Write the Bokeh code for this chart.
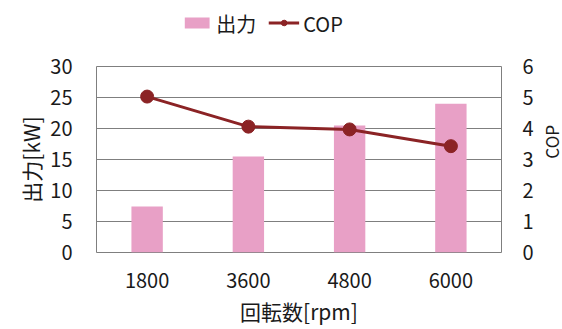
import math
from bokeh.plotting import figure
from bokeh.layouts import column, row
from bokeh.models import (ColumnDataSource, Range1d, LinearAxis, Legend, LegendItem,
                          FixedTicker)
from bokeh.core.properties import value
from bokeh.embed import file_html
from bokeh.resources import INLINE

# Data
speeds = ["1800", "3600", "4800", "6000"]
power_kw = [7.4, 15.5, 20.5, 24.0]
cop = [5.03, 4.06, 3.97, 3.43]

FONT = "Noto Sans CJK JP"
BAR_COLOR = "#E8A0C6"
LINE_COLOR = "#8B2325"
GRID_COLOR = "#7F7F7F"
TEXT_COLOR = "#1a1a1a"

src = ColumnDataSource(dict(x=speeds, power=power_kw, cop=cop))

p = figure(
    x_range=speeds, y_range=Range1d(0, 30),
    width=540, height=284,
    min_border_left=96, min_border_right=39, min_border_top=21, min_border_bottom=77,
    output_backend="svg", toolbar_location=None,
    background_fill_color="white", border_fill_color="white",
)
p.extra_y_ranges = {"cop": Range1d(0, 6)}

bars = p.vbar(x="x", top="power", width=0.31, source=src,
              fill_color=BAR_COLOR, line_color=None)
line = p.line(x="x", y="cop", source=src, y_range_name="cop",
              line_color=LINE_COLOR, line_width=3)
dots = p.scatter(x="x", y="cop", source=src, y_range_name="cop",
                 size=13, fill_color=LINE_COLOR, line_color=LINE_COLOR)

# Frame and grid
p.outline_line_color = GRID_COLOR
p.outline_line_width = 1
p.xgrid.grid_line_color = None
p.ygrid.grid_line_color = GRID_COLOR
p.ygrid.grid_line_width = 1
p.ygrid.ticker = FixedTicker(ticks=[5, 10, 15, 20, 25])

# Left axis
ya = p.yaxis[0]
ya.ticker = FixedTicker(ticks=[0, 5, 10, 15, 20, 25, 30])
ya.axis_label = "出力[kW]"

# Right axis (its title is drawn in the narrow strip beside the chart)
ra = LinearAxis(y_range_name="cop",
                ticker=FixedTicker(ticks=[0, 1, 2, 3, 4, 5, 6]))
p.add_layout(ra, "right")

# X axis
xa = p.xaxis[0]
xa.axis_label = "回転数[rpm]"

for ax in [ya, ra, xa]:
    ax.axis_line_color = None
    ax.major_tick_line_color = None
    ax.minor_tick_line_color = None
    ax.major_label_text_font = FONT
    ax.major_label_text_font_size = "20px"
    ax.major_label_text_color = TEXT_COLOR
    ax.axis_label_text_font = FONT
    ax.axis_label_text_font_style = "normal"
    ax.axis_label_text_color = TEXT_COLOR
ya.axis_label_text_font_size = "21px"
xa.axis_label_text_font_size = "21px"
ya.major_label_standoff = 18
ra.major_label_standoff = 15
xa.major_label_standoff = 14
ya.axis_label_standoff = 1
xa.axis_label_standoff = 5

# Right-hand strip holding the COP axis title, reading bottom to top
strip = figure(
    width=22, height=284, x_range=Range1d(0, 1), y_range=Range1d(0, 1),
    x_axis_location=None, y_axis_location=None,
    min_border_left=0, min_border_right=0, min_border_top=0, min_border_bottom=0,
    output_backend="svg", toolbar_location=None,
)
strip.outline_line_color = None
strip.grid.grid_line_color = None
strip.text(x=[0.5], y=[0.595], text=["COP"], angle=math.pi / 2,
           text_font=value(FONT), text_font_size="17px", text_color=TEXT_COLOR,
           text_align="center", text_baseline="middle")

# Legend strip drawn as its own small figure above the chart;
# its sample renderers hold one point outside the visible range
lg = figure(
    width=562, height=45, x_range=Range1d(0, 1), y_range=Range1d(0, 1),
    x_axis_location=None, y_axis_location=None,
    min_border_left=0, min_border_right=38, min_border_top=0, min_border_bottom=0,
    output_backend="svg", toolbar_location=None,
)
lg.outline_line_color = None
lg.grid.grid_line_color = None
sample = ColumnDataSource(dict(x=[-5], y=[-5], top=[-5]))
lg_bar = lg.vbar(x="x", top="top", width=0.1, source=sample,
                 fill_color=BAR_COLOR, line_color=None)
lg_line = lg.line(x="x", y="y", source=sample, line_color=LINE_COLOR, line_width=3)
lg_dot = lg.scatter(x="x", y="y", source=sample, size=13,
                    fill_color=LINE_COLOR, line_color=LINE_COLOR)

legend = Legend(
    items=[LegendItem(label="出力", renderers=[lg_bar]),
           LegendItem(label="COP", renderers=[lg_line, lg_dot])],
    orientation="horizontal", location="center",
    label_text_font=FONT, label_text_font_size="20px", label_text_color=TEXT_COLOR,
    glyph_width=31, glyph_height=14, spacing=12, label_standoff=4,
    border_line_color=None, background_fill_alpha=0, margin=0, padding=4,
)
lg.add_layout(legend, "center")

layout = column(lg, row(p, strip, spacing=0), spacing=0)
open("out.html", "w").write(file_html(layout, INLINE))
